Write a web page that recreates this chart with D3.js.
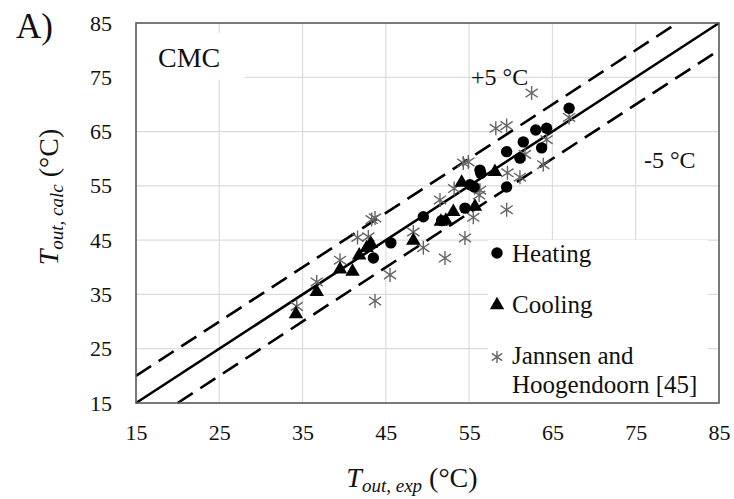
<!DOCTYPE html>
<html>
<head>
<meta charset="utf-8">
<script src="https://cdn.jsdelivr.net/npm/d3@7"></script>
<style>
  body { margin: 0; background: #fff; }
  svg text { font-family: "Liberation Serif", "Times New Roman", serif; fill: #111; }
</style>
</head>
<body>
<div id="viz"></div>
<script>
// values (deg C)
const heatX = [45.6, 43.5, 49.5, 51.7, 54.5, 55.1, 55.6, 56.3, 56.4, 59.5, 59.5, 61.1, 61.5, 63.0, 64.3, 63.7, 67.0];
const heatY = [44.5, 41.7, 49.3, 48.6, 50.9, 55.2, 54.8, 57.9, 57.3, 54.8, 61.3, 60.1, 63.1, 65.3, 65.6, 62.0, 69.3];

const coolX = [34.2, 36.7, 39.5, 41.0, 41.8, 42.7, 43.2, 48.3, 51.6, 52.2, 53.1, 55.7, 54.1, 58.1];
const coolY = [31.4, 35.5, 39.6, 39.2, 42.2, 43.6, 44.3, 44.9, 48.4, 48.6, 50.2, 51.2, 55.6, 57.6];

const jhX = [34.3, 36.7, 39.5, 41.6, 42.9, 43.3, 43.7, 43.7, 45.5, 48.3, 49.5, 51.5, 52.1, 53.2, 54.3, 54.9, 54.5, 55.5, 56.3, 56.2, 59.5, 59.6, 61.1, 61.7, 63.9, 64.3, 62.5, 58.2, 59.5, 67.0];
const jhY = [32.8, 37.3, 41.3, 45.5, 45.6, 48.8, 49.1, 33.8, 38.6, 46.5, 43.6, 52.4, 41.7, 54.5, 59.2, 59.4, 45.4, 49.2, 54.2, 53.3, 50.6, 57.4, 56.6, 60.8, 58.9, 63.5, 72.1, 65.6, 66.1, 67.6];

const ticks = [15, 25, 35, 45, 55, 65, 75, 85];
const band = 5;

const margin = {top: 23, right: 15, bottom: 96, left: 136},
    W = 734, H = 499,
    width = W - margin.left - margin.right,
    height = H - margin.top - margin.bottom;

const svg = d3.select("#viz")
  .append("svg")
  .attr("width", W)
  .attr("height", H);

const g = svg.append("g")
  .attr("transform", `translate(${margin.left}, ${margin.top})`);

const x = d3.scaleLinear().domain([15, 85]).range([0, width]);
const y = d3.scaleLinear().domain([15, 85]).range([height, 0]);

// grid
g.append("g").selectAll("line").data(ticks.slice(1, -1)).enter().append("line")
  .attr("x1", d => x(d)).attr("x2", d => x(d))
  .attr("y1", 0).attr("y2", height)
  .attr("stroke", "#dcdcdc").attr("stroke-width", 1.2);
g.append("g").selectAll("line").data(ticks.slice(1, -1)).enter().append("line")
  .attr("y1", d => y(d)).attr("y2", d => y(d))
  .attr("x1", 0).attr("x2", width)
  .attr("stroke", "#dcdcdc").attr("stroke-width", 1.2);

// axes (labels only)
const xAxis = g.append("g")
  .attr("transform", `translate(0, ${height})`)
  .call(d3.axisBottom(x).tickValues(ticks).tickSize(0).tickPadding(21));
const yAxis = g.append("g")
  .call(d3.axisLeft(y).tickValues(ticks).tickSize(0).tickPadding(24));
[xAxis, yAxis].forEach(a => {
  a.select(".domain").remove();
  a.selectAll("text").attr("font-size", 22).style("font-family", '"Liberation Serif", serif').attr("fill", "#111");
});

// white boxes behind in-plot labels
g.append("rect").attr("x", 0).attr("y", 10).attr("width", 109).attr("height", 47).attr("fill", "#fff");
g.append("rect").attr("x", 352).attr("y", 217).attr("width", 220).attr("height", 162).attr("fill", "#fff");

// lines y = x and +/- 5
const diag = [
  {off: 0, dash: null},
  {off: band, dash: "18,9"},
  {off: -band, dash: "18,9"}
];
diag.forEach(d => {
  const x0 = Math.max(15, 15 - d.off), x1 = Math.min(85, 85 - d.off);
  g.append("line")
    .attr("x1", x(x0)).attr("y1", y(x0 + d.off))
    .attr("x2", x(x1)).attr("y2", y(x1 + d.off))
    .attr("stroke", "#000").attr("stroke-width", 2.6)
    .attr("stroke-dasharray", d.dash);
});

// markers
const star = (sel, s) => sel.attr("d", `M0,${-s}V${s}M${-s*0.87},${-s*0.6}L${s*0.87},${s*0.6}M${-s*0.87},${s*0.6}L${s*0.87},${-s*0.6}`)
  .attr("fill", "none").attr("stroke", "#666").attr("stroke-width", 1.4);

g.append("g").selectAll("path").data(d3.zip(jhX, jhY)).enter().append("path")
  .attr("transform", d => `translate(${x(d[0])},${y(d[1])})`)
  .call(star, 7);

const tri = d3.symbol().type(d3.symbolTriangle).size(90);
g.append("g").selectAll("path").data(d3.zip(coolX, coolY)).enter().append("path")
  .attr("transform", d => `translate(${x(d[0])},${y(d[1])})`)
  .attr("d", tri).attr("fill", "#000");

g.append("g").selectAll("circle").data(d3.zip(heatX, heatY)).enter().append("circle")
  .attr("cx", d => x(d[0])).attr("cy", d => y(d[1])).attr("r", 5.7)
  .attr("fill", "#000");

// plot border
g.append("rect").attr("width", width).attr("height", height)
  .attr("fill", "none").attr("stroke", "#595959").attr("stroke-width", 1.6);

// texts
g.append("text").attr("x", 22).attr("y", 44).attr("font-size", 28).text("CMC");
g.append("text").attr("x", 335).attr("y", 62).attr("font-size", 24).text("+5 °C");
g.append("text").attr("x", 508).attr("y", 145).attr("font-size", 24).text("-5 °C");

// legend
const leg = g.append("g").attr("transform", "translate(361, 0)");
const lx = 0, tx = 15;
leg.append("circle").attr("cx", lx).attr("cy", 230).attr("r", 5.7).attr("fill", "#000");
leg.append("text").attr("x", tx).attr("y", 239).attr("font-size", 25).text("Heating");
leg.append("path").attr("transform", "translate(0,282)").attr("d", tri).attr("fill", "#000");
leg.append("text").attr("x", tx).attr("y", 290).attr("font-size", 25).text("Cooling");
leg.append("path").attr("transform", "translate(0,334)").call(star, 6);
leg.append("text").attr("x", tx).attr("y", 341).attr("font-size", 25).text("Jannsen and");
leg.append("text").attr("x", tx).attr("y", 370).attr("font-size", 25).text("Hoogendoorn [45]");

// panel letter
svg.append("text").attr("x", 16).attr("y", 38).attr("font-size", 35).text("A)");

// axis titles
const xt = svg.append("text").attr("x", 412).attr("y", 487).attr("text-anchor", "middle").attr("font-size", 28);
xt.append("tspan").attr("font-style", "italic").text("T");
xt.append("tspan").attr("font-style", "italic").attr("font-size", 19).attr("dy", 5).text("out, exp");
xt.append("tspan").attr("dy", -5).text(" (°C)");

const yt = svg.append("text").attr("transform", "translate(58, 197) rotate(-90)").attr("text-anchor", "middle").attr("font-size", 28);
yt.append("tspan").attr("font-style", "italic").text("T");
yt.append("tspan").attr("font-style", "italic").attr("font-size", 19).attr("dy", 5).text("out, calc");
yt.append("tspan").attr("dy", -5).text(" (°C)");
</script>
</body>
</html>
